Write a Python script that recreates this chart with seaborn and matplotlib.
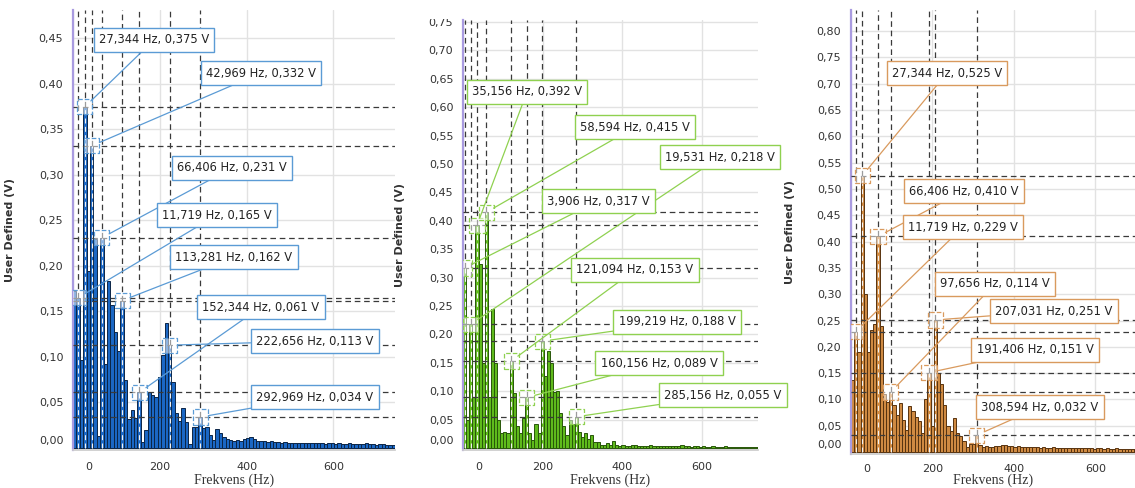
import numpy as np
import pandas as pd
import seaborn as sns
import matplotlib.pyplot as plt
from matplotlib.ticker import FuncFormatter
from matplotlib.transforms import ScaledTranslation
from matplotlib.patches import Rectangle

# ======================================
# DATA (spectrum bins, 7.8125 Hz wide)
# ======================================
BIN_WIDTH = 7.8125

blue_values = [
    0.172, 0.165, 0.097, 0.375, 0.195, 0.332, 0.230, 0.013, 0.231, 0.092,
    0.183, 0.157, 0.128, 0.107, 0.162, 0.075, 0.032, 0.042, 0.033, 0.061,
    0.007, 0.020, 0.061, 0.058, 0.056, 0.078, 0.102, 0.137, 0.113, 0.073,
    0.038, 0.030, 0.044, 0.029, 0.004, 0.023, 0.023, 0.034, 0.022, 0.023,
    0.014, 0.009, 0.021, 0.016, 0.012, 0.010, 0.009, 0.008, 0.009, 0.008,
    0.010, 0.011, 0.012, 0.010, 0.008, 0.008, 0.008, 0.007, 0.008, 0.007,
    0.007, 0.006, 0.007, 0.006, 0.006, 0.005, 0.006, 0.006, 0.005, 0.005,
    0.006, 0.005, 0.005, 0.005, 0.004, 0.005, 0.005, 0.004, 0.005, 0.004,
    0.004, 0.005, 0.004, 0.004, 0.004, 0.004, 0.005, 0.004, 0.004, 0.003,
    0.004, 0.004, 0.003, 0.003, 0.003,
]

green_values = [
    0.317, 0.049, 0.218, 0.090, 0.392, 0.324, 0.150, 0.415, 0.090, 0.245,
    0.150, 0.050, 0.026, 0.029, 0.026, 0.153, 0.096, 0.038, 0.026, 0.052,
    0.089, 0.026, 0.014, 0.042, 0.026, 0.188, 0.126, 0.171, 0.149, 0.099,
    0.101, 0.061, 0.038, 0.023, 0.049, 0.042, 0.055, 0.029, 0.020, 0.026,
    0.015, 0.023, 0.011, 0.010, 0.006, 0.005, 0.008, 0.006, 0.012, 0.006,
    0.004, 0.005, 0.004, 0.004, 0.005, 0.006, 0.004, 0.004, 0.003, 0.004,
    0.006, 0.004, 0.003, 0.003, 0.004, 0.003, 0.003, 0.004, 0.003, 0.003,
    0.005, 0.003, 0.003, 0.002, 0.003, 0.003, 0.002, 0.003, 0.002, 0.002,
    0.003, 0.002, 0.002, 0.002, 0.003, 0.002, 0.002, 0.002, 0.002, 0.002,
    0.002, 0.002, 0.002, 0.002, 0.002,
]

orange_values = [
    0.137, 0.229, 0.190, 0.525, 0.300, 0.190, 0.232, 0.243, 0.410, 0.240,
    0.110, 0.096, 0.114, 0.089, 0.070, 0.094, 0.061, 0.042, 0.088, 0.078,
    0.067, 0.058, 0.037, 0.100, 0.151, 0.050, 0.251, 0.150, 0.130, 0.090,
    0.050, 0.040, 0.064, 0.037, 0.030, 0.020, 0.010, 0.016, 0.016, 0.032,
    0.013, 0.009, 0.011, 0.010, 0.010, 0.011, 0.012, 0.013, 0.014, 0.012,
    0.011, 0.010, 0.011, 0.010, 0.009, 0.010, 0.009, 0.009, 0.010, 0.008,
    0.009, 0.008, 0.008, 0.009, 0.008, 0.008, 0.007, 0.008, 0.008, 0.007,
    0.008, 0.007, 0.007, 0.007, 0.008, 0.007, 0.006, 0.007, 0.007, 0.006,
    0.007, 0.006, 0.006, 0.007, 0.006, 0.006, 0.006, 0.006, 0.005, 0.006,
]

# markers: (Hz, V)
blue_marker_hz = [27.344, 42.969, 66.406, 11.719, 113.281, 152.344, 222.656, 292.969]
blue_marker_v = [0.375, 0.332, 0.231, 0.165, 0.162, 0.061, 0.113, 0.034]

green_marker_hz = [35.156, 58.594, 19.531, 3.906, 121.094, 199.219, 160.156, 285.156]
green_marker_v = [0.392, 0.415, 0.218, 0.317, 0.153, 0.188, 0.089, 0.055]

orange_marker_hz = [27.344, 66.406, 11.719, 97.656, 207.031, 191.406, 308.594]
orange_marker_v = [0.525, 0.410, 0.229, 0.114, 0.251, 0.151, 0.032]

# label box centres (image pixels, from top-left)
blue_label_px = [(154, 40), (261, 73), (232, 168), (217, 215), (234, 257),
                 (261, 307), (315, 341), (315, 397)]
green_label_px = [(527, 92), (635, 127), (720, 157), (598, 201), (635, 270),
                  (677, 322), (659, 363), (723, 395)]
orange_label_px = [(947, 73), (964, 191), (963, 227), (995, 284), (1054, 311),
                   (1035, 350), (1040, 407)]

# ======================================
# LAYOUT / STYLE
# ======================================
W, H = 1135, 488
panels = [
    dict(values=blue_values, mhz=blue_marker_hz, mv=blue_marker_v, lab=blue_label_px,
         face="#1b67c4", edge="#0b2547", box="#5b9bd5", px=(73, 395, 10, 450),
         ylim=(-0.0022, 0.4813), xmax=742, yticks=np.arange(0, 0.46, 0.05),
         ylab_x=-0.18, xtick_pad=5, xlab_pad=1),
    dict(values=green_values, mhz=green_marker_hz, mv=green_marker_v, lab=green_label_px,
         face="#5fba1c", edge="#28560a", box="#8fd150", px=(463, 758, 20, 450),
         ylim=(-0.0035, 0.7535), xmax=742, yticks=np.arange(0, 0.76, 0.05),
         ylab_x=-0.197, xtick_pad=5, xlab_pad=1),
    dict(values=orange_values, mhz=orange_marker_hz, mv=orange_marker_v, lab=orange_label_px,
         face="#cf8a42", edge="#58330f", box="#d99a5e", px=(851, 1135, 10, 454),
         ylim=(-0.0038, 0.8403), xmax=697, yticks=np.arange(0, 0.81, 0.05),
         ylab_x=-0.197, xtick_pad=3, xlab_pad=0),
]

sns.set_theme(style="white")
plt.rcParams["font.family"] = ["DejaVu Sans"]

fig = plt.figure(figsize=(W / 100, H / 100), dpi=100)
comma_fmt = FuncFormatter(lambda v, p: f"{v:.2f}".replace(".", ","))
dash = (0, (4.5, 3))

for p in panels:
    l, r, t, b = p["px"]
    ax = fig.add_axes([l / W, (H - b) / H, (r - l) / W, (b - t) / H])

    n = len(p["values"])
    df = pd.DataFrame({
        "freq": np.arange(n) * BIN_WIDTH + BIN_WIDTH / 2,
        "volt": p["values"],
    })

    sns.histplot(data=df, x="freq", weights="volt", binwidth=BIN_WIDTH,
                 binrange=(0, n * BIN_WIDTH), ax=ax,
                 color=p["face"], edgecolor=p["edge"], linewidth=0.7, alpha=1, zorder=2)

    ax.set_xlim(0, p["xmax"])
    ax.set_ylim(*p["ylim"])
    ax.set_xticks([0, 200, 400, 600])
    ax.set_yticks(p["yticks"])
    ax.yaxis.set_major_formatter(comma_fmt)
    ax.grid(True, color="#e2e2e2", lw=1, zorder=0)
    ax.set_axisbelow(True)

    # crosshair lines for each marker
    top = p["ylim"][1]
    for f, v in zip(p["mhz"], p["mv"]):
        ax.axhline(v, color="#3a3a3a", ls=dash, lw=0.9, zorder=3)
        ax.vlines(f, v, top, colors="#3a3a3a", linestyles=dash, lw=0.9, zorder=3)
        ax.vlines(f, 0, v, colors="#f2f2f2", linestyles=dash, lw=0.8, zorder=3)

    ax.scatter(p["mhz"], p["mv"], marker="s", s=120, facecolors=(1, 1, 1, 0.5),
               edgecolors=p["box"], linestyles="--", linewidths=0.9, zorder=4)

    for f, v, (lx, ly) in zip(p["mhz"], p["mv"], p["lab"]):
        txt = f"{f:.3f} Hz, {v:.3f} V".replace(".", ",")
        ax.annotate(txt, xy=(f, v), xytext=(lx, H - ly), textcoords="figure pixels",
                    ha="center", va="center", fontsize=8.3, color="#222222",
                    bbox=dict(boxstyle="square,pad=0.45", fc="white", ec=p["box"], lw=1),
                    arrowprops=dict(arrowstyle="-", color=p["box"], lw=0.9,
                                    shrinkA=0, shrinkB=6),
                    zorder=6, annotation_clip=False)

    for side in ["top", "right"]:
        ax.spines[side].set_visible(False)
    ax.spines["left"].set_color("#a99be0")
    ax.spines["left"].set_linewidth(1.6)
    ax.spines["bottom"].set_color("#cccccc")
    ax.tick_params(axis="both", length=4, width=0.8, color="#aaaaaa",
                   labelsize=8, labelcolor="#333333", pad=3)
    ax.tick_params(axis="x", pad=p["xtick_pad"])

    ax.set_ylabel("User Defined (V)", fontsize=8, fontweight="bold", color="#333333")
    ax.yaxis.set_label_coords(p["ylab_x"], 0.5)
    ax.set_xlabel("Frekvens (Hz)", fontsize=10, family="Liberation Serif", color="#333333",
                  labelpad=p["xlab_pad"])

    # zero labels sit a little off their ticks in the original
    xl = ax.get_xticklabels()[0]
    xl.set_transform(xl.get_transform() + ScaledTranslation(0.16, 0, fig.dpi_scale_trans))
    yl = ax.get_yticklabels()[0]
    yl.set_transform(yl.get_transform() + ScaledTranslation(0, 0.08, fig.dpi_scale_trans))

# top of middle panel is cropped in the original
fig.add_artist(Rectangle((400 / W, (H - 19) / H), 60 / W, 19 / H,
                         transform=fig.transFigure, fc="white", ec="none", zorder=10))

fig.savefig("out.png", dpi=100, facecolor="white")
